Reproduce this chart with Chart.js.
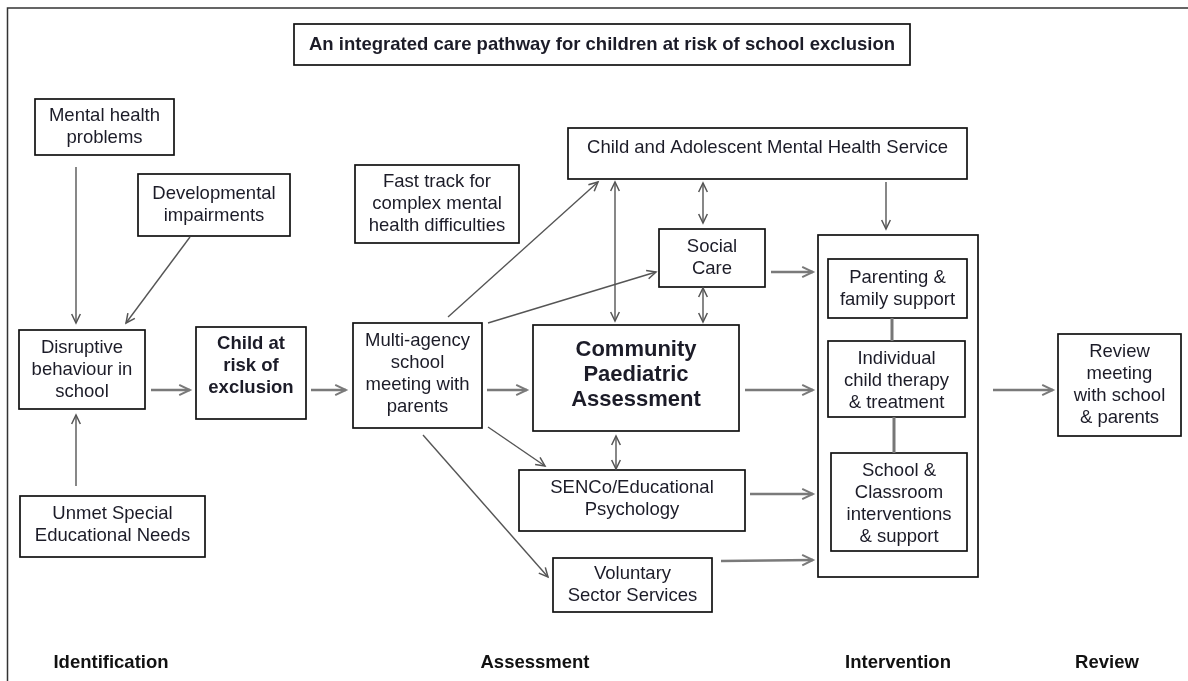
<!DOCTYPE html>
<html>
<head>
<meta charset="utf-8">
<script src="https://cdn.jsdelivr.net/npm/chart.js@4.4.1/dist/chart.umd.min.js"></script>
<style>
  html, body { margin: 0; padding: 0; background: #fff; }
</style>
</head>
<body>
<canvas id="pathway" width="1188" height="681"></canvas>
<script>
// Diagram content: nodes, links and phase names
const nodeIds = ['title', 'mental', 'dev', 'fast', 'camhs', 'social', 'interv', 'parent', 'indiv',
  'school', 'review', 'cpa', 'senco', 'vol', 'disrupt', 'child', 'multi', 'unmet'];
const nodeLabels = [
  'An integrated care pathway for children at risk of school exclusion',
  'Mental health\nproblems',
  'Developmental\nimpairments',
  'Fast track for\ncomplex mental\nhealth difficulties',
  'Child and Adolescent Mental Health Service',
  'Social\nCare',
  '',
  'Parenting &\nfamily support',
  'Individual\nchild therapy\n& treatment',
  'School &\nClassroom\ninterventions\n& support',
  'Review\nmeeting\nwith school\n& parents',
  'Community\nPaediatric\nAssessment',
  'SENCo/Educational\nPsychology',
  'Voluntary\nSector Services',
  'Disruptive\nbehaviour in\nschool',
  'Child at\nrisk of\nexclusion',
  'Multi-agency\nschool\nmeeting with\nparents',
  'Unmet Special\nEducational Needs'
];
const edgeFrom = ['mental', 'dev', 'unmet', 'disrupt', 'child', 'multi', 'multi', 'multi', 'multi', 'multi',
  'camhs', 'camhs', 'social', 'cpa', 'camhs', 'social', 'cpa', 'senco', 'vol', 'interv', 'parent', 'indiv'];
const edgeTo = ['disrupt', 'disrupt', 'disrupt', 'child', 'multi', 'cpa', 'camhs', 'social', 'senco', 'vol',
  'cpa', 'social', 'cpa', 'senco', 'interv', 'interv', 'interv', 'interv', 'interv', 'review', 'indiv', 'school'];
// 1 = one-way arrow, 2 = two-way arrow, 0 = plain connector
const edgeType = [1, 1, 1, 1, 1, 1, 1, 1, 1, 1, 2, 2, 2, 2, 1, 1, 1, 1, 1, 1, 0, 0];
const phaseLabels = ['Identification', 'Assessment', 'Intervention', 'Review'];

// Layout (in diagram units, mapped through the chart scales)
const boxes = {
  title: [294, 24, 910, 65], mental: [35, 99, 174, 155], dev: [138, 174, 290, 236],
  fast: [355, 165, 519, 243], camhs: [568, 128, 967, 179], social: [659, 229, 765, 287],
  interv: [818, 235, 978, 577], parent: [828, 259, 967, 318], indiv: [828, 341, 965, 417],
  school: [831, 453, 967, 551], review: [1058, 334, 1181, 436], cpa: [533, 325, 739, 431],
  senco: [519, 470, 745, 531], vol: [553, 558, 712, 612], disrupt: [19, 330, 145, 409],
  child: [196, 327, 306, 419], multi: [353, 323, 482, 428], unmet: [20, 496, 205, 557]
};
const REG = '18.5px "Liberation Sans", Arial, sans-serif';
const textStyle = {
  title: { font: 'bold 18.5px "Liberation Sans", Arial, sans-serif', dy: 0 },
  camhs: { dy: -6 },
  cpa: { font: 'bold 22px "Liberation Sans", Arial, sans-serif', lh: 25, dy: -3 },
  child: { font: 'bold 18.5px "Liberation Sans", Arial, sans-serif', lh: 22, dy: -7 },
  multi: { dy: -2 },
  unmet: { dy: -2 },
  senco: { dy: -2 },
  indiv: { dy: 2 },
  school: { dy: 2 }
};
const arrowPts = [
  [76, 167, 76, 323], [190, 237, 126, 323], [76, 486, 76, 415], [151, 390, 190, 390],
  [311, 390, 346, 390], [487, 390, 527, 390], [448, 317, 598, 182], [488, 323, 656, 272],
  [488, 427, 545, 466], [423, 435, 548, 577], [615, 182, 615, 321], [703, 183, 703, 223],
  [703, 288, 703, 322], [616, 436, 616, 469], [886, 182, 886, 229], [771, 272, 813, 272],
  [745, 390, 813, 390], [750, 494, 813, 494], [721, 561, 813, 560], [993, 390, 1053, 390],
  [892, 318, 892, 341], [894, 417, 894, 453]
];
const phaseX = [111, 535, 898, 1107];
const phaseY = 663;

const centers = nodeIds.map(id => {
  const b = boxes[id];
  return { x: (b[0] + b[2]) / 2, y: (b[1] + b[3]) / 2 };
});

const flowPlugin = {
  id: 'flow',
  afterDatasetsDraw(chart) {
    const { ctx, scales: { x, y } } = chart;
    const px = v => x.getPixelForValue(v);
    const py = v => y.getPixelForValue(v);
    ctx.save();

    // outer frame (left and top only)
    ctx.strokeStyle = '#333';
    ctx.lineWidth = 1.5;
    ctx.beginPath();
    ctx.moveTo(px(7.5), py(681));
    ctx.lineTo(px(7.5), py(8));
    ctx.lineTo(px(1188), py(8));
    ctx.stroke();

    // boxes and their text
    nodeIds.forEach((id, i) => {
      const b = boxes[id];
      const x1 = px(b[0]), y1 = py(b[1]), x2 = px(b[2]), y2 = py(b[3]);
      ctx.fillStyle = '#fff';
      ctx.fillRect(x1, y1, x2 - x1, y2 - y1);
      ctx.strokeStyle = '#111';
      ctx.lineWidth = 1.7;
      ctx.strokeRect(x1, y1, x2 - x1, y2 - y1);

      const st = textStyle[id] || {};
      const lines = nodeLabels[i] ? nodeLabels[i].split('\n') : [];
      const lh = st.lh || 22;
      ctx.font = st.font || REG;
      ctx.fillStyle = '#1c1c28';
      ctx.textAlign = 'center';
      ctx.textBaseline = 'middle';
      const cx = px(centers[i].x);
      const cy = py(centers[i].y) + (st.dy || 0);
      lines.forEach((ln, k) => {
        ctx.fillText(ln, cx, cy + (k - (lines.length - 1) / 2) * lh);
      });
    });

    // arrows and connectors
    const head = (xa, ya, xb, yb, L) => {
      const ang = Math.atan2(yb - ya, xb - xa);
      const a = 0.45;
      ctx.beginPath();
      ctx.moveTo(xb - L * Math.cos(ang - a), yb - L * Math.sin(ang - a));
      ctx.lineTo(xb, yb);
      ctx.lineTo(xb - L * Math.cos(ang + a), yb - L * Math.sin(ang + a));
      ctx.stroke();
    };
    arrowPts.forEach((p, i) => {
      const xa = px(p[0]), ya = py(p[1]), xb = px(p[2]), yb = py(p[3]);
      const kind = edgeType[i];
      const flat = Math.abs(ya - yb) < 2;
      if (kind === 0) {
        ctx.strokeStyle = '#777';
        ctx.lineWidth = 3;
      } else if (flat) {
        ctx.strokeStyle = '#7a7a7a';
        ctx.lineWidth = 2.5;
      } else {
        ctx.strokeStyle = '#555';
        ctx.lineWidth = 1.4;
      }
      ctx.beginPath();
      ctx.moveTo(xa, ya);
      ctx.lineTo(xb, yb);
      ctx.stroke();
      ctx.lineWidth = flat ? 2 : 1.5;
      const L = flat ? 12 : 10;
      if (kind >= 1) head(xa, ya, xb, yb, L);
      if (kind === 2) head(xb, yb, xa, ya, L);
    });

    // phase labels along the bottom
    ctx.font = 'bold 18.5px "Liberation Sans", Arial, sans-serif';
    ctx.fillStyle = '#111';
    ctx.textAlign = 'center';
    ctx.textBaseline = 'middle';
    phaseLabels.forEach((t, i) => ctx.fillText(t, px(phaseX[i]), py(phaseY)));
    ctx.restore();
  }
};

new Chart(document.getElementById('pathway').getContext('2d'), {
  type: 'scatter',
  data: {
    datasets: [{
      label: 'Nodes',
      data: centers,
      pointRadius: 0
    }]
  },
  options: {
    responsive: false,
    animation: false,
    layout: { padding: 0 },
    scales: {
      x: { type: 'linear', min: 0, max: 1188, display: false },
      y: { type: 'linear', min: 0, max: 681, reverse: true, display: false }
    },
    plugins: {
      legend: { display: false },
      tooltip: { enabled: false }
    }
  },
  plugins: [flowPlugin]
});
</script>
</body>
</html>
